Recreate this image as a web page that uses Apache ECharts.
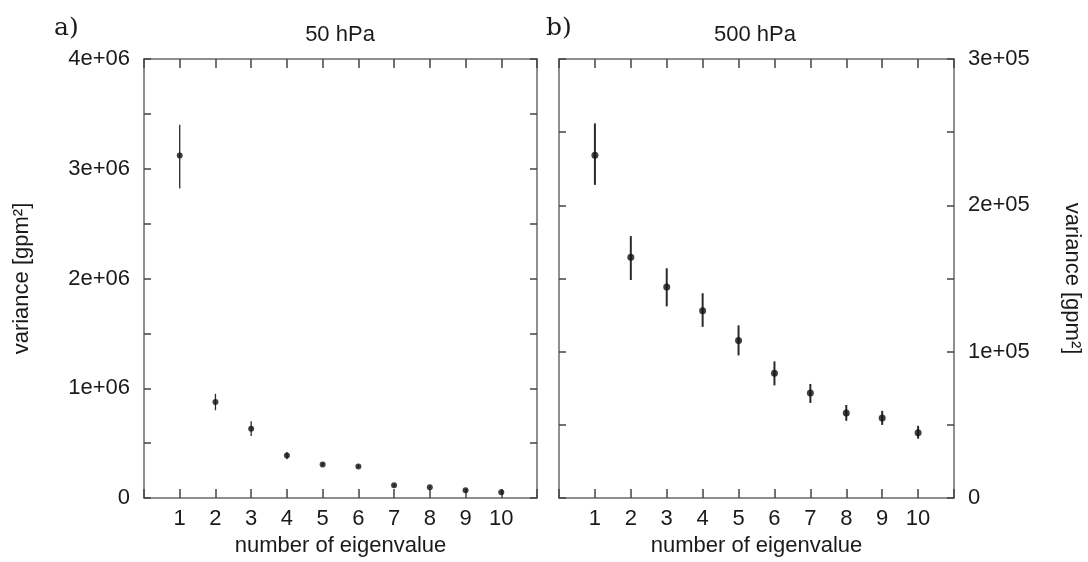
<!DOCTYPE html>
<html>
<head>
<meta charset="utf-8">
<script src="https://cdn.jsdelivr.net/npm/echarts@6/dist/echarts.min.js"></script>
<style>
html,body{margin:0;padding:0;background:#fff;}
#chart{width:1088px;height:562px;}
</style>
</head>
<body>
<div id="chart"></div>
<script>
// ---- data ----
const eigen = [1, 2, 3, 4, 5, 6, 7, 8, 9, 10];
const xTickLabels = ['1','2','3','4','5','6','7','8','9','10'];

// panel a) 50 hPa
const var50 = [3.12e6, 0.876e6, 0.632e6, 0.388e6, 0.307e6, 0.289e6, 0.117e6, 0.099e6, 0.072e6, 0.054e6];
const var50Lo = [2.82e6, 0.80e6, 0.565e6, 0.355e6, 0.292e6, 0.276e6, 0.106e6, 0.089e6, 0.064e6, 0.047e6];
const var50Hi = [3.40e6, 0.95e6, 0.70e6, 0.42e6, 0.323e6, 0.302e6, 0.128e6, 0.109e6, 0.080e6, 0.061e6];
const yTicks50 = ['0', '1e+06', '2e+06', '3e+06', '4e+06'];

// panel b) 500 hPa
const var500 = [2.343e5, 1.645e5, 1.442e5, 1.28e5, 1.077e5, 0.853e5, 0.718e5, 0.582e5, 0.548e5, 0.447e5];
const var500Lo = [2.14e5, 1.49e5, 1.31e5, 1.17e5, 0.975e5, 0.77e5, 0.65e5, 0.528e5, 0.50e5, 0.406e5];
const var500Hi = [2.56e5, 1.79e5, 1.57e5, 1.40e5, 1.18e5, 0.934e5, 0.78e5, 0.636e5, 0.596e5, 0.494e5];
const yTicks500 = ['0', '1e+05', '2e+05', '3e+05'];

// ---- chart ----
const FONT = '"Liberation Sans", Arial, Helvetica, sans-serif';
const TXT = '#1a1a1a';
const FRAME = '#6a6a6a';
const FS = 22;

const chart = echarts.init(document.getElementById('chart'), null, {renderer: 'canvas'});

function xAxes(gi) {
  return [
    {
      type: 'value', gridIndex: gi, position: 'bottom', min: 0, max: 11, interval: 1,
      axisLine: {show: true, onZero: false, lineStyle: {color: FRAME, width: 1.5}},
      axisTick: {show: true, inside: true, length: 9, lineStyle: {color: '#444', width: 1.5}},
      axisLabel: {
        show: true, margin: 10, color: TXT, fontFamily: FONT, fontSize: FS,
        formatter: v => (v >= 1 && v <= 10) ? xTickLabels[v - 1] : ''
      },
      splitLine: {show: false},
      name: 'number of eigenvalue', nameLocation: 'middle', nameGap: 32,
      nameTextStyle: {color: TXT, fontFamily: FONT, fontSize: FS}
    },
    {
      type: 'value', gridIndex: gi, position: 'top', min: 0, max: 11, interval: 1,
      axisLine: {show: true, onZero: false, lineStyle: {color: FRAME, width: 1.5}},
      axisTick: {show: true, inside: true, length: 9, lineStyle: {color: '#444', width: 1.5}},
      axisLabel: {show: false},
      splitLine: {show: false}
    }
  ];
}

function yAxes(gi, maxV, step, labels, labelSide) {
  const mk = (pos, showLabel, name, rot, gap) => ({
    type: 'value', gridIndex: gi, position: pos, min: 0, max: maxV, interval: step,
    axisLine: {show: true, onZero: false, lineStyle: {color: FRAME, width: 1.5}},
    axisTick: {show: true, inside: true, length: 7, lineStyle: {color: '#444', width: 1.5}},
    minorTick: {show: true, splitNumber: 2, length: 7, lineStyle: {color: '#444', width: 1.5}},
    axisLabel: {
      show: showLabel, margin: 14, color: TXT, fontFamily: FONT, fontSize: FS,
      formatter: v => labels[Math.round(v / step)]
    },
    splitLine: {show: false},
    name: name, nameLocation: 'middle', nameRotate: rot, nameGap: gap,
    nameTextStyle: {color: TXT, fontFamily: FONT, fontSize: FS}
  });
  if (labelSide === 'left') {
    return [mk('left', true, 'variance [gpm²]', 90, 111), mk('right', false, '', 0, 0)];
  }
  return [mk('left', false, '', 0, 0), mk('right', true, 'variance [gpm²]', -90, 107)];
}

function errData(lo, hi) {
  return eigen.map((x, i) => [x, lo[i], hi[i]]);
}

function errSeries(xi, yi, lo, hi, w) {
  return {
    type: 'custom', xAxisIndex: xi, yAxisIndex: yi,
    data: errData(lo, hi),
    encode: {x: 0, y: [1, 2]},
    silent: true,
    renderItem: function (params, api) {
      const p1 = api.coord([api.value(0), api.value(1)]);
      const p2 = api.coord([api.value(0), api.value(2)]);
      return {
        type: 'line',
        shape: {x1: p1[0], y1: p1[1], x2: p2[0], y2: p2[1]},
        style: {stroke: '#2a2a2a', lineWidth: w}
      };
    },
    z: 3
  };
}

function ptSeries(xi, yi, vals, size) {
  return {
    type: 'scatter', xAxisIndex: xi, yAxisIndex: yi,
    data: eigen.map((x, i) => [x, vals[i]]),
    symbol: 'circle', symbolSize: size,
    itemStyle: {color: '#111'},
    silent: true, z: 4
  };
}

const option = {
  backgroundColor: '#ffffff',
  animation: false,
  grid: [
    {left: 144, top: 59, width: 393, height: 443},
    {left: 559, top: 59, width: 395, height: 443}
  ],
  xAxis: [...xAxes(0), ...xAxes(1)],
  yAxis: [
    ...yAxes(0, 4e6, 1e6, yTicks50, 'left'),
    ...yAxes(1, 3e5, 1e5, yTicks500, 'right')
  ],
  series: [
    errSeries(0, 0, var50Lo, var50Hi, 1.3),
    ptSeries(0, 0, var50, 6),
    errSeries(2, 2, var500Lo, var500Hi, 2),
    ptSeries(2, 2, var500, 7)
  ],
  graphic: [
    {type: 'text', left: 54, top: 16, style: {text: 'a)', font: '25px "DejaVu Serif", "Liberation Serif", serif', fill: TXT}},
    {type: 'text', left: 546, top: 16, style: {text: 'b)', font: '25px "DejaVu Serif", "Liberation Serif", serif', fill: TXT}},
    {type: 'text', x: 340, y: 35, style: {text: '50 hPa', font: '22px ' + FONT, fill: TXT, textAlign: 'center', textVerticalAlign: 'middle'}},
    {type: 'text', x: 755, y: 35, style: {text: '500 hPa', font: '22px ' + FONT, fill: TXT, textAlign: 'center', textVerticalAlign: 'middle'}}
  ]
};

chart.setOption(option);
</script>
</body>
</html>
